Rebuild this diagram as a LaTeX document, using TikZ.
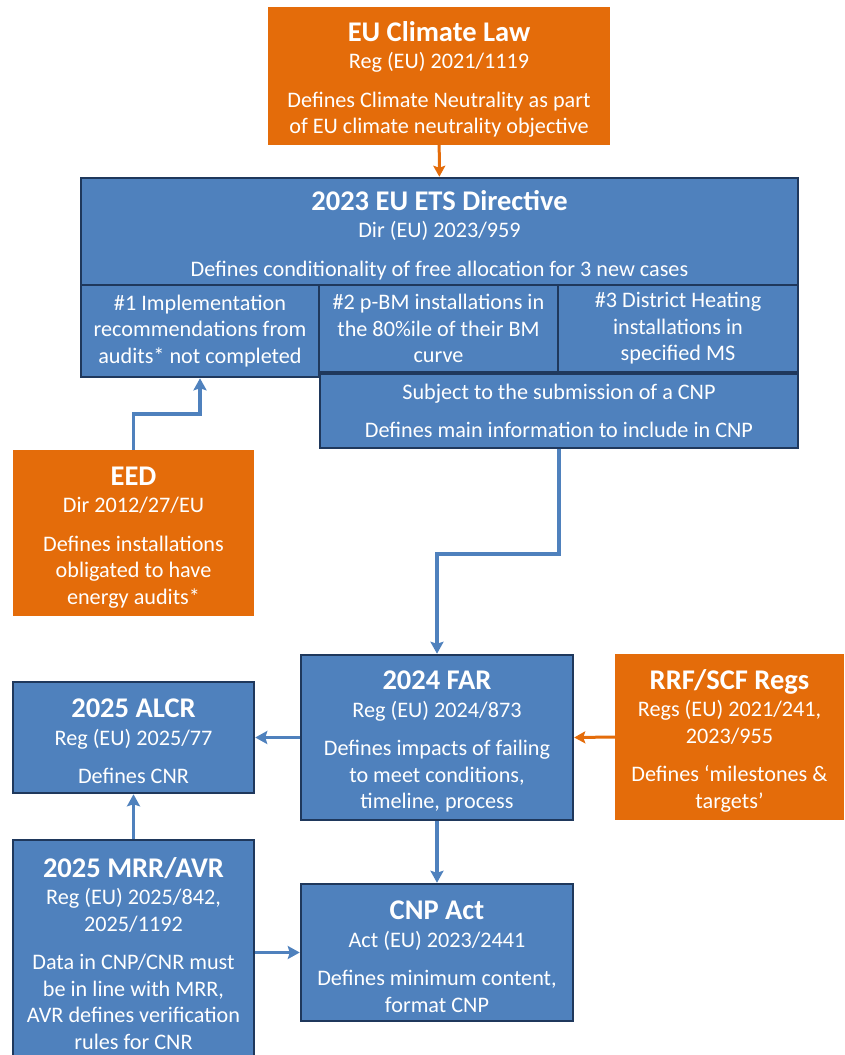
\documentclass[tikz,border=0pt]{standalone}
\usepackage{fontspec}
\setmainfont{Carlito}
\usetikzlibrary{arrows.meta}

\definecolor{euorange}{RGB}{228,108,10}
\definecolor{eublue}{RGB}{79,129,189}
\definecolor{eunavy}{RGB}{31,56,92}

\tikzset{
  law/.style={inner sep=0pt, align=center, text=white, font=\fontsize{22.2}{26.5}\selectfont},
  bluelaw/.style={law, fill=eublue, draw=eunavy, line width=2.5pt},
  orangelaw/.style={law, fill=euorange},
  bluelink/.style={draw=eublue, line width=3.5pt, -{Stealth[length=12pt,width=13pt,inset=2pt]}},
  orangelink/.style={draw=euorange, line width=3pt, -{Stealth[length=11pt,width=12pt,inset=2pt]}}
}
\newcommand{\lawtitle}[1]{{\fontsize{28.5}{30}\selectfont\bfseries\rule{0pt}{27pt}#1}}

\begin{document}
\begin{tikzpicture}[x=1pt,y=-1pt]
    \useasboundingbox (0,0) rectangle (844,1055);

    \node[orangelaw, minimum width=342pt, minimum height=138pt] (climate) at (439,76)
        {\lawtitle{EU Climate Law}\\[1pt] Reg (EU) 2021/1119\\[12pt] Defines Climate Neutrality as part\\ of EU climate neutrality objective};

    \node[bluelaw, minimum width=717pt, minimum height=107pt] (ets) at (439.5,231.5)
        {\lawtitle{2023 EU ETS Directive}\\[1pt] Dir (EU) 2023/959\\[12pt] Defines conditionality of free allocation for 3 new cases};
    \node[bluelaw, minimum width=238pt, minimum height=92pt] (case1) at (200,331)
        {\#1 Implementation\\ recommendations from\\ audits* not completed};
    \node[bluelaw, minimum width=239pt, minimum height=87pt] (case2) at (438.5,328.5)
        {\#2 p-BM installations in\\ the 80\%ile of their BM\\ curve};
    \node[bluelaw, minimum width=240pt, minimum height=87pt] (case3) at (678,328.5)
        {\#3 District Heating\\ installations in\\ specified MS};
    \node[bluelaw, minimum width=478pt, minimum height=74pt] (cnp) at (559,411)
        {Subject to the submission of a CNP\\[12pt] Defines main information to include in CNP};

    \node[orangelaw, minimum width=241pt, minimum height=166pt] (eed) at (133.5,533)
        {\lawtitle{EED}\\[1pt] Dir 2012/27/EU\\[12pt] Defines installations\\ obligated to have\\ energy audits*};

    \node[bluelaw, minimum width=272pt, minimum height=165pt] (far) at (437,737.5)
        {\lawtitle{2024 FAR}\\[1pt] Reg (EU) 2024/873\\[12pt] Defines impacts of failing\\ to meet conditions,\\ timeline, process};
    \node[orangelaw, minimum width=229pt, minimum height=166pt] (rrf) at (729.5,737)
        {\lawtitle{RRF/SCF Regs}\\[1pt] Regs (EU) 2021/241,\\ 2023/955\\[12pt] Defines ‘milestones \&\\ targets’};
    \node[bluelaw, minimum width=241pt, minimum height=111pt] (alcr) at (133.5,737.5)
        {\lawtitle{2025 ALCR}\\[1pt] Reg (EU) 2025/77\\[12pt] Defines CNR};
    \node[bluelaw, minimum width=241pt, minimum height=220pt] (mrr) at (133.5,950)
        {\lawtitle{2025 MRR/AVR}\\[1pt] Reg (EU) 2025/842,\\ 2025/1192\\[12pt] Data in CNP/CNR must\\ be in line with MRR,\\ AVR defines verification\\ rules for CNR};
    \node[bluelaw, minimum width=272pt, minimum height=137pt] (act) at (437,952.5)
        {\lawtitle{CNP Act}\\[1pt] Act (EU) 2023/2441\\[12pt] Defines minimum content,\\ format CNP};

    \coordinate (eedbend) at (133.5,414);
    \coordinate (farbend) at (559,554);

    \draw[orangelink] (climate) -- (ets);
    \draw[bluelink] (eed.north) -- (eedbend) -| (case1.south);
    \draw[bluelink] (cnp.south) -- (farbend) -| (far.north);
    \draw[bluelink] (far.west) -- (alcr.east);
    \draw[orangelink] (rrf.west) -- (far.east);
    \draw[bluelink] (mrr.north) -- (alcr.south);
    \draw[bluelink] (far.south) -- (act.north);
    \draw[bluelink] (mrr.east |- act.west) -- (act.west);
\end{tikzpicture}
\end{document}
